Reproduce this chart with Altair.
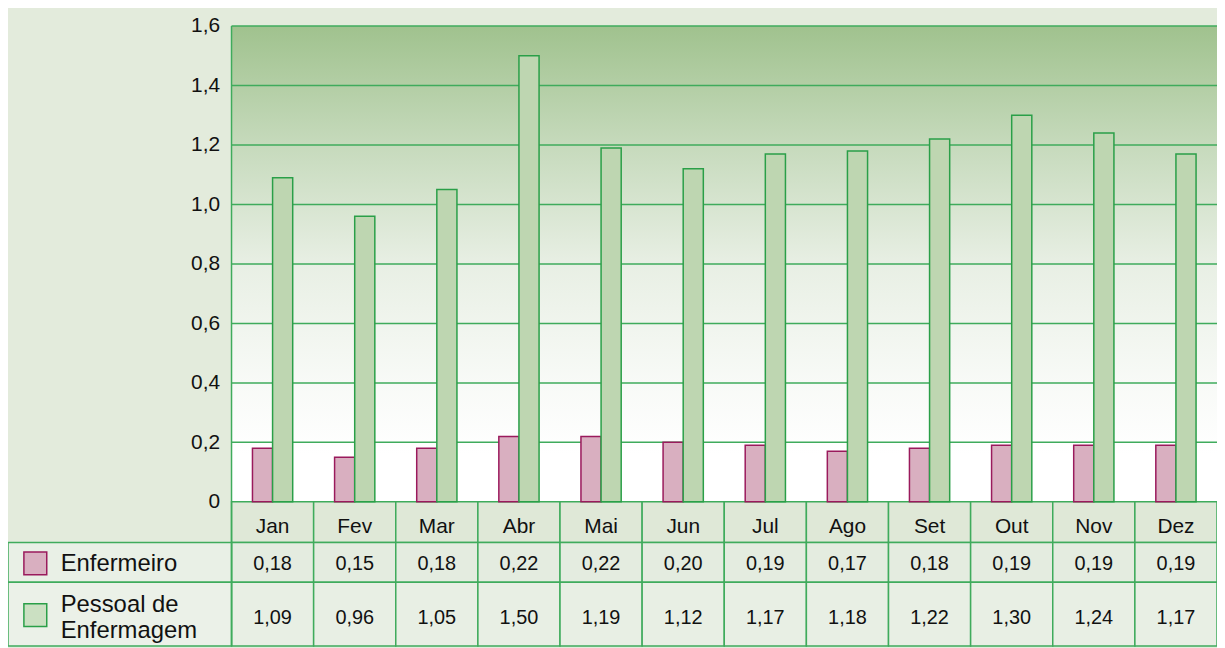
import altair as alt
import pandas as pd

# ---- data ----
months = ["Jan", "Fev", "Mar", "Abr", "Mai", "Jun", "Jul", "Ago", "Set", "Out", "Nov", "Dez"]
enfermeiro = [0.18, 0.15, 0.18, 0.22, 0.22, 0.20, 0.19, 0.17, 0.18, 0.19, 0.19, 0.19]
pessoal = [1.09, 0.96, 1.05, 1.50, 1.19, 1.12, 1.17, 1.18, 1.22, 1.30, 1.24, 1.17]
series_names = ["Enfermeiro", "Pessoal de\nEnfermagem"]
y_ticks = [0, 0.2, 0.4, 0.6, 0.8, 1.0, 1.2, 1.4, 1.6]

# ---- layout constants (pixels -> data units) ----
W, H = 1217, 640
LABELW = 225.0
NM = len(months)
MONW = (W - LABELW) / NM
XMIN = -LABELW / MONW
PPU = 479.0 / 1.6
YMAX = 1.6 + 16.0 / PPU
YMIN = YMAX - H / PPU
R1 = -41.0 / PPU
R2 = -81.0 / PPU

def px(p):
    return p / PPU

FONT = "Liberation Sans"
GRID = "#3fab5c"
PINK, PINK_S = "#d9afc0", "#9a1a5c"
GREEN, GREEN_S = "#bed6b1", "#2a9f48"

xs = alt.Scale(domain=[XMIN, NM], nice=False, zero=False)
ys = alt.Scale(domain=[YMIN, YMAX], nice=False, zero=False)
yaxis = alt.Axis(values=y_ticks, offset=-LABELW, domain=False, ticks=False, grid=False,
                 labelExpr="datum.value == 0 ? '0' : replace(format(datum.value, '.1f'), '.', ',')",
                 labelFont=FONT, labelFontSize=21, labelColor="#111", labelPadding=12, title=None)

def X(f):
    return alt.X(f, type="quantitative", scale=xs, axis=None)

def Y(f):
    return alt.Y(f, type="quantitative", scale=ys, axis=yaxis)

# plot background gradient
plot_bg = pd.DataFrame({"x": [0], "x2": [NM], "y": [0], "y2": [max(y_ticks)]})
bg = alt.Chart(plot_bg).mark_rect(
    fill=alt.Gradient(gradient="linear", x1=0, x2=0, y1=0, y2=1,
                      stops=[alt.GradientStop(offset=0, color="#a0c28e"),
                             alt.GradientStop(offset=0.25, color="#c6dabc"),
                             alt.GradientStop(offset=0.5, color="#e8efe4"),
                             alt.GradientStop(offset=0.75, color="#f8faf7"),
                             alt.GradientStop(offset=0.9, color="#ffffff"),
                             alt.GradientStop(offset=1, color="#ffffff")])
).encode(x=X("x"), x2="x2", y=Y("y"), y2="y2")

# grid lines
grid_df = pd.DataFrame({"y": [t for t in y_ticks if t > 0]})
grid = alt.Chart(grid_df).mark_rule(color=GRID, strokeWidth=1.5).encode(
    x=alt.X("a:Q", scale=xs, axis=None), x2="b:Q", y=Y("y")
).transform_calculate(a="0", b=str(NM))

# bars
bars_df = pd.DataFrame({"idx": list(range(NM)), "month": months, "enf": enfermeiro, "pes": pessoal})
bar_enf = alt.Chart(bars_df).mark_rect(fill=PINK, stroke=PINK_S, strokeWidth=1.5).encode(
    x=X("x0"), x2="x1", y=Y("zero"), y2="enf"
).transform_calculate(x0="datum.idx + 0.255", x1="datum.idx + 0.5", zero="0")
bar_pes = alt.Chart(bars_df).mark_rect(fill=GREEN, stroke=GREEN_S, strokeWidth=1.5).encode(
    x=X("x0"), x2="x1", y=Y("zero"), y2="pes"
).transform_calculate(x0="datum.idx + 0.5", x1="datum.idx + 0.745", zero="0")

# table cells
rows_top = [0, R1, R2]
rows_bot = [R1, R2, YMIN]
cells = []
for i in range(NM):
    for r in range(3):
        cells.append({"x0": i, "x1": i + 1, "y0": rows_top[r], "y1": rows_bot[r], "row": r})
for r in (1, 2):
    cells.append({"x0": XMIN, "x1": 0, "y0": rows_top[r], "y1": rows_bot[r], "row": r + 10})
cells_df = pd.DataFrame(cells)
cell_marks = alt.Chart(cells_df).mark_rect(stroke=GRID, strokeWidth=1.5).encode(
    x=X("x0"), x2="x1", y=Y("y0"), y2="y1",
    fill=alt.Fill("row:N", scale=alt.Scale(domain=[0, 1, 2, 11, 12],
                                          range=["#dfe8d7", "#e4ece0", "#e8efe4", "#e9f0e6", "#ebf1e8"]),
                  legend=None)
)

# month labels
mon_text = alt.Chart(bars_df).mark_text(font=FONT, fontSize=21, color="#111").encode(
    x=X("xc"), y=Y("yc"), text="month:N"
).transform_calculate(xc="datum.idx + 0.5", yc=str(px(-25)))

# values
enf_text = alt.Chart(bars_df).mark_text(font=FONT, fontSize=20, color="#111").encode(
    x=X("xc"), y=Y("yc"), text="t:N"
).transform_calculate(xc="datum.idx + 0.5", yc=str(px(-63)),
                      t="replace(format(datum.enf, '.2f'), '.', ',')")
pes_text = alt.Chart(bars_df).mark_text(font=FONT, fontSize=20, color="#111").encode(
    x=X("xc"), y=Y("yc"), text="t:N"
).transform_calculate(xc="datum.idx + 0.5", yc=str(px(-117)),
                      t="replace(format(datum.pes, '.2f'), '.', ',')")

# legend column
leg_df = pd.DataFrame({"name": series_names, "k": [0, 1],
                       "ysq": [px(-62), px(-114)], "ytx": [px(-63), px(-104)]})
sq_common = dict(x=X("sx0"), x2="sx1", y=Y("sy0"), y2="sy1")
sq_calc = dict(sx0=str(XMIN + 16.0 / MONW), sx1=str(XMIN + 39.0 / MONW),
               sy0="datum.ysq - " + str(px(11.5)), sy1="datum.ysq + " + str(px(11.5)))
leg_sq_enf = alt.Chart(leg_df).mark_rect(fill=PINK, stroke=PINK_S, strokeWidth=1.5).encode(
    **sq_common).transform_filter("datum.k == 0").transform_calculate(**sq_calc)
leg_sq_pes = alt.Chart(leg_df).mark_rect(fill="#cbe0c2", stroke=GREEN_S, strokeWidth=1.5).encode(
    **sq_common).transform_filter("datum.k == 1").transform_calculate(**sq_calc)
leg_tx = alt.Chart(leg_df).mark_text(font=FONT, fontSize=24, color="#111",
                                     align="left", lineBreak="\n", lineHeight=26).encode(
    x=X("xc"), y=Y("ytx"), text="name:N"
).transform_calculate(xc=str(XMIN + 53.0 / MONW))

# vertical axis line
vline = alt.Chart(pd.DataFrame({"y": [YMIN], "y2": [max(y_ticks)]})).mark_rule(color=GRID, strokeWidth=1.5).encode(
    x=alt.X("a:Q", scale=xs, axis=None), y=Y("y"), y2="y2"
).transform_calculate(a="0")

chart = alt.layer(bg, grid, cell_marks, bar_enf, bar_pes, mon_text, enf_text, pes_text,
                  leg_sq_enf, leg_sq_pes, leg_tx, vline).properties(
    width=W, height=H, background="#e3ebdc", padding=0,
    autosize=alt.AutoSizeParams(type="none")
).configure_view(stroke=None)

chart.save("out.html", embed_options={"renderer": "svg", "actions": False})
